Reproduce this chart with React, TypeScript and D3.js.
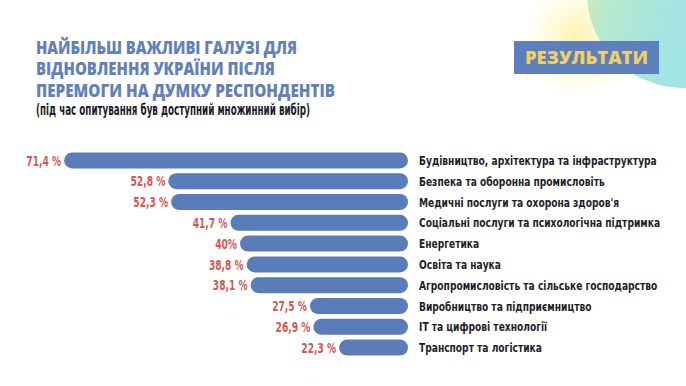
import React from "react";
import * as d3 from "d3";

const categories = [
  "Будівництво, архітектура та інфраструктура",
  "Безпека та оборонна промисловіть",
  "Медичні послуги та охорона здоров'я",
  "Соціальні послуги та психологічна підтримка",
  "Енергетика",
  "Освіта та наука",
  "Агропромисловість та сільське господарство",
  "Виробництво та підприємництво",
  "ІТ та цифрові технології",
  "Транспорт та логістика",
];
const values = [71.4, 52.8, 52.3, 41.7, 40, 38.8, 38.1, 27.5, 26.9, 22.3];
const valueLabels = ["71,4 %", "52,8 %", "52,3 %", "41,7 %", "40%", "38,8 %", "38,1 %", "27,5 %", "26,9 %", "22,3 %"];

const titleLines = [
  "НАЙБІЛЬШ ВАЖЛИВІ ГАЛУЗІ ДЛЯ",
  "ВІДНОВЛЕННЯ УКРАЇНИ ПІСЛЯ",
  "ПЕРЕМОГИ НА ДУМКУ РЕСПОНДЕНТІВ",
];
const titleWidths = [261, 239, 299];
const subtitle = "(під час опитування був доступний множинний вибір)";
const badge = "РЕЗУЛЬТАТИ";

const W = 686;
const H = 386;
const barEnd = 408;
const narrow = "'DejaVu Sans Condensed', sans-serif";

export default function App() {
  const widthScale = d3.scaleLinear().domain([10, 75]).range([0, 364]);
  const y = d3.scaleBand<string>().domain(categories).range([150, 358]).paddingInner(0.23).paddingOuter(0.115);
  const bh = y.bandwidth();
  return (
    <svg width={W} height={H} style={{ position: "absolute", left: 0, top: 0, background: "#fff" }}>
      <defs>
        <linearGradient id="blob" x1="0" y1="0" x2="1" y2="0.3">
          <stop offset="0" stopColor="#dcef9c" />
          <stop offset="0.25" stopColor="#b8e9cc" />
          <stop offset="0.55" stopColor="#a4e5e2" />
          <stop offset="1" stopColor="#9fe2e6" />
        </linearGradient>
        <radialGradient id="glow" cx="0.5" cy="0.5" r="0.5">
          <stop offset="0" stopColor="#fbf09a" stopOpacity="0.85" />
          <stop offset="0.6" stopColor="#fdf4b5" stopOpacity="0.4" />
          <stop offset="1" stopColor="#fff8c8" stopOpacity="0" />
        </radialGradient>
      </defs>
      <ellipse cx={578} cy={40} rx={55} ry={60} fill="url(#glow)" />
      <ellipse cx={684} cy={-6} rx={97} ry={94} fill="url(#blob)" />
      <rect x={514} y={41} width={145} height={33} fill="#5d7fbd" />
      <text x={586.5} y={64} textAnchor="middle" fill="#f1cf66" fontFamily="'Open Sans', sans-serif" fontWeight={800} fontSize={17} textLength={123} lengthAdjust="spacingAndGlyphs">
        {badge}
      </text>
      {titleLines.map((t, i) => (
        <text key={t} x={36} y={53.5 + i * 21.7} fill="#6381b6" fontFamily="'Open Sans', sans-serif" fontWeight={800} fontSize={17} textLength={titleWidths[i]} lengthAdjust="spacingAndGlyphs">
          {t}
        </text>
      ))}
      <text x={36} y={114.5} fill="#1c1c24" fontFamily={narrow} fontWeight={700} fontSize={15.5} textLength={274} lengthAdjust="spacingAndGlyphs">
        {subtitle}
      </text>
      {categories.map((c, i) => {
        const w = widthScale(values[i]);
        const y0 = y(c)!;
        const cy = y0 + bh / 2;
        return (
          <g key={c}>
            <rect x={barEnd - w} y={y0} width={w} height={bh} rx={bh / 2} ry={bh / 2} fill="#5a7cb9" />
            <g transform={`translate(${barEnd - w - 3},${cy}) scale(0.7,1)`}>
              <text x={0} y={0} dy="0.36em" textAnchor="end" fill="#d9554f" fontFamily={narrow} fontWeight={700} fontSize={14.5}>
                {valueLabels[i]}
              </text>
            </g>
            <g transform={`translate(419,${cy}) scale(0.78,1)`}>
              <text x={0} y={0} dy="0.36em" fill="#1e1e28" fontFamily={narrow} fontWeight={700} fontSize={13}>
                {c}
              </text>
            </g>
          </g>
        );
      })}
    </svg>
  );
}
